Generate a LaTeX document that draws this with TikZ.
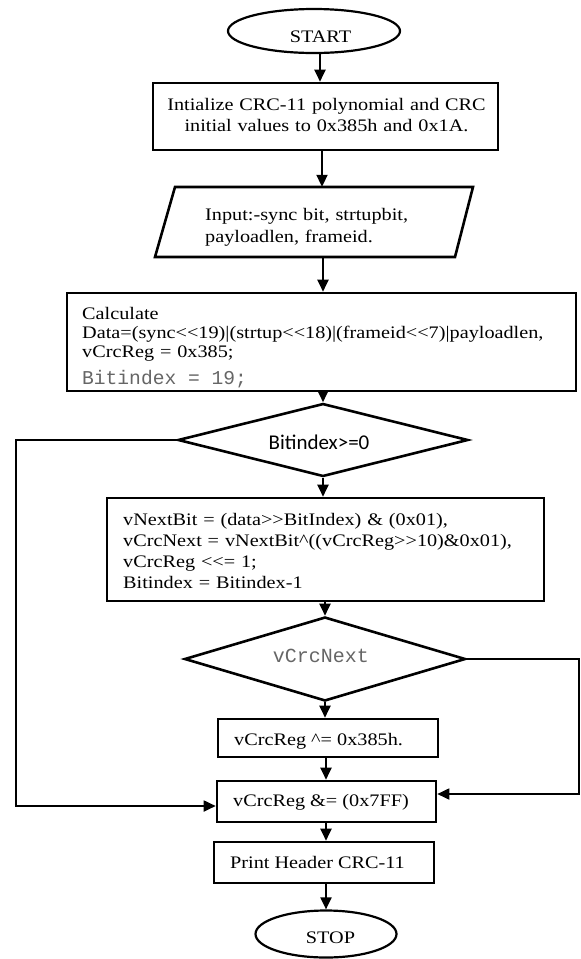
\documentclass[tikz,border=0pt]{standalone}
\usepackage{fontspec}
\setmainfont{Liberation Serif}[FakeStretch=1.15]
\newfontfamily\sansf{Carlito}
\newfontfamily\monof{Liberation Mono}
\usetikzlibrary{shapes.geometric,arrows.meta}
\begin{document}
\begin{tikzpicture}[x=1pt,y=-1pt,
  font=\fontsize{17.6}{21}\selectfont,
  boxl/.style={draw,line width=2.6pt,rectangle,inner sep=0pt},
  ovalnode/.style={draw,ellipse,line width=2.2pt,inner sep=0pt},
  decide/.style={draw,diamond,line width=2.6pt,inner sep=0pt},
  txt/.style={inner sep=0pt,anchor=base west,align=left},
  codetxt/.style={inner sep=0pt,anchor=base west,text=black!60,font=\monof\fontsize{19.6}{22}\selectfont},
  arr/.style={line width=2pt,-{Triangle[width=11pt,length=12pt]}},
  arrl/.style={line width=1.8pt,-{Triangle[width=11pt,length=12pt]}}]
\useasboundingbox (0,0) rectangle (581,959);
\fill[white] (0,0) rectangle (581,959);

% START
\node[ovalnode,minimum width=172pt,minimum height=44pt] (start) at (314,31) {};
\node[inner sep=0pt,anchor=base] (starttxt) at (320.5,42) {START};

% init
\node[boxl,minimum width=345pt,minimum height=67pt] (init) at (325.5,116.5) {};
\node[inner sep=0pt,anchor=base,text width=340pt,align=center] (inittxt) at (326.5,110)
  {Intialize CRC-11 polynomial and CRC\\initial values to 0x385h and 0x1A.};

% input (parallelogram)
\node[inner sep=0pt,minimum width=298pt,minimum height=70pt] (input) at (314,222) {};
\coordinate (p1) at (155,257);
\coordinate (p2) at (455,257);
\coordinate (p3) at (473,187);
\coordinate (p4) at (175,187);
\draw[line width=2.6pt,line join=miter] (p1) -- (p2) -- (p3) -- (p4) -- cycle;
\node[txt,text width=260pt,font=\fontsize{17.6}{22}\selectfont] (inputtxt) at (205,220)
  {Input:-sync bit, strtupbit,\\payloadlen, frameid.};

% calculate
\node[boxl,minimum width=509pt,minimum height=98pt] (calc) at (321.5,342) {};
\node[txt,text width=480pt,font=\fontsize{17.6}{18.75}\selectfont] (calctxt) at (82,319.5)
  {Calculate\\
   Data=(sync<{}<19)|(strtup<{}<18)|(frameid<{}<7)|payloadlen,\\
   vCrcReg = 0x385;};
\node[codetxt] (calccode) at (82,384) {Bitindex = 19;};

% decision 1
\node[decide,minimum width=290pt,minimum height=73pt] (dia1) at (323,440) {};
\node[inner sep=0pt,anchor=base,font=\sansf\fontsize{21}{24}\selectfont] (dia1txt) at (319,449) {Bitindex>=0};

% loop body
\node[boxl,minimum width=437pt,minimum height=103pt] (calc2) at (325.5,549.5) {};
\node[txt,text width=410pt,font=\fontsize{17.6}{21.3}\selectfont] (calc2txt) at (123,525)
  {vNextBit = (data>{}>BitIndex) \& (0x01),\\
   vCrcNext = vNextBit\textasciicircum((vCrcReg>{}>10)\&0x01),\\
   vCrcReg <{}<= 1;\\
   Bitindex = Bitindex-1};

% decision 2
\node[decide,minimum width=281pt,minimum height=84pt] (dia2) at (325,659) {};
\node[inner sep=0pt,anchor=base,text=black!60,font=\monof\fontsize{20}{24}\selectfont] (dia2txt) at (321,662) {vCrcNext};

% lower boxes
\node[boxl,minimum width=220pt,minimum height=38pt] (xor) at (328,738) {};
\node[txt] (xortxt) at (234,745) {vCrcReg \textasciicircum= 0x385h.};
\node[boxl,minimum width=219pt,minimum height=41pt] (mask) at (326.5,801.5) {};
\node[txt] (masktxt) at (233,806.5) {vCrcReg \&= (0x7FF)};
\node[boxl,minimum width=220pt,minimum height=41pt] (print) at (324,862.5) {};
\node[txt] (printtxt) at (230,868) {Print Header CRC-11};

% STOP
\node[ovalnode,minimum width=141pt,minimum height=47pt] (stop) at (326,934) {};
\node[inner sep=0pt,anchor=base] (stoptxt) at (330.5,943) {STOP};

% connectors
\coordinate (ax1) at (320,0);
\coordinate (ax2) at (322,0);
\coordinate (ax3) at (323,0);
\coordinate (ax4) at (326,0);
\draw[arr] (start.south -| ax1) -- (init.north -| ax1);
\draw[arr] (init.south -| ax2) -- (input.north -| ax2);
\draw[arr] (input.south -| ax3) -- (calc.north -| ax3);
\draw[arr] (calc.south -| dia1.north) -- (dia1.north);
\draw[arr] (dia1.south) -- (dia1.south |- calc2.north);
\draw[arr] (calc2.south -| dia2.north) -- (dia2.north);
\draw[arr] (dia2.south) -- (dia2.south |- xor.north);
\draw[arr] (xor.south -| ax4) -- (mask.north -| ax4);
\draw[arr] (mask.south -| ax4) -- (print.north -| ax4);
\draw[arr] (print.south -| ax4) -- (stop.north -| ax4);

\coordinate (L1) at (16,440);
\coordinate (L2) at (16,806);
\draw[arrl] (dia1.west) -- (L1) -- (L2) -- (L2 -| mask.west);
\coordinate (R1) at (579,659);
\coordinate (R2) at (579,794);
\draw[arrl] (dia2.east) -- (R1) -- (R2) -- (R2 -| mask.east);
\end{tikzpicture}
\end{document}
